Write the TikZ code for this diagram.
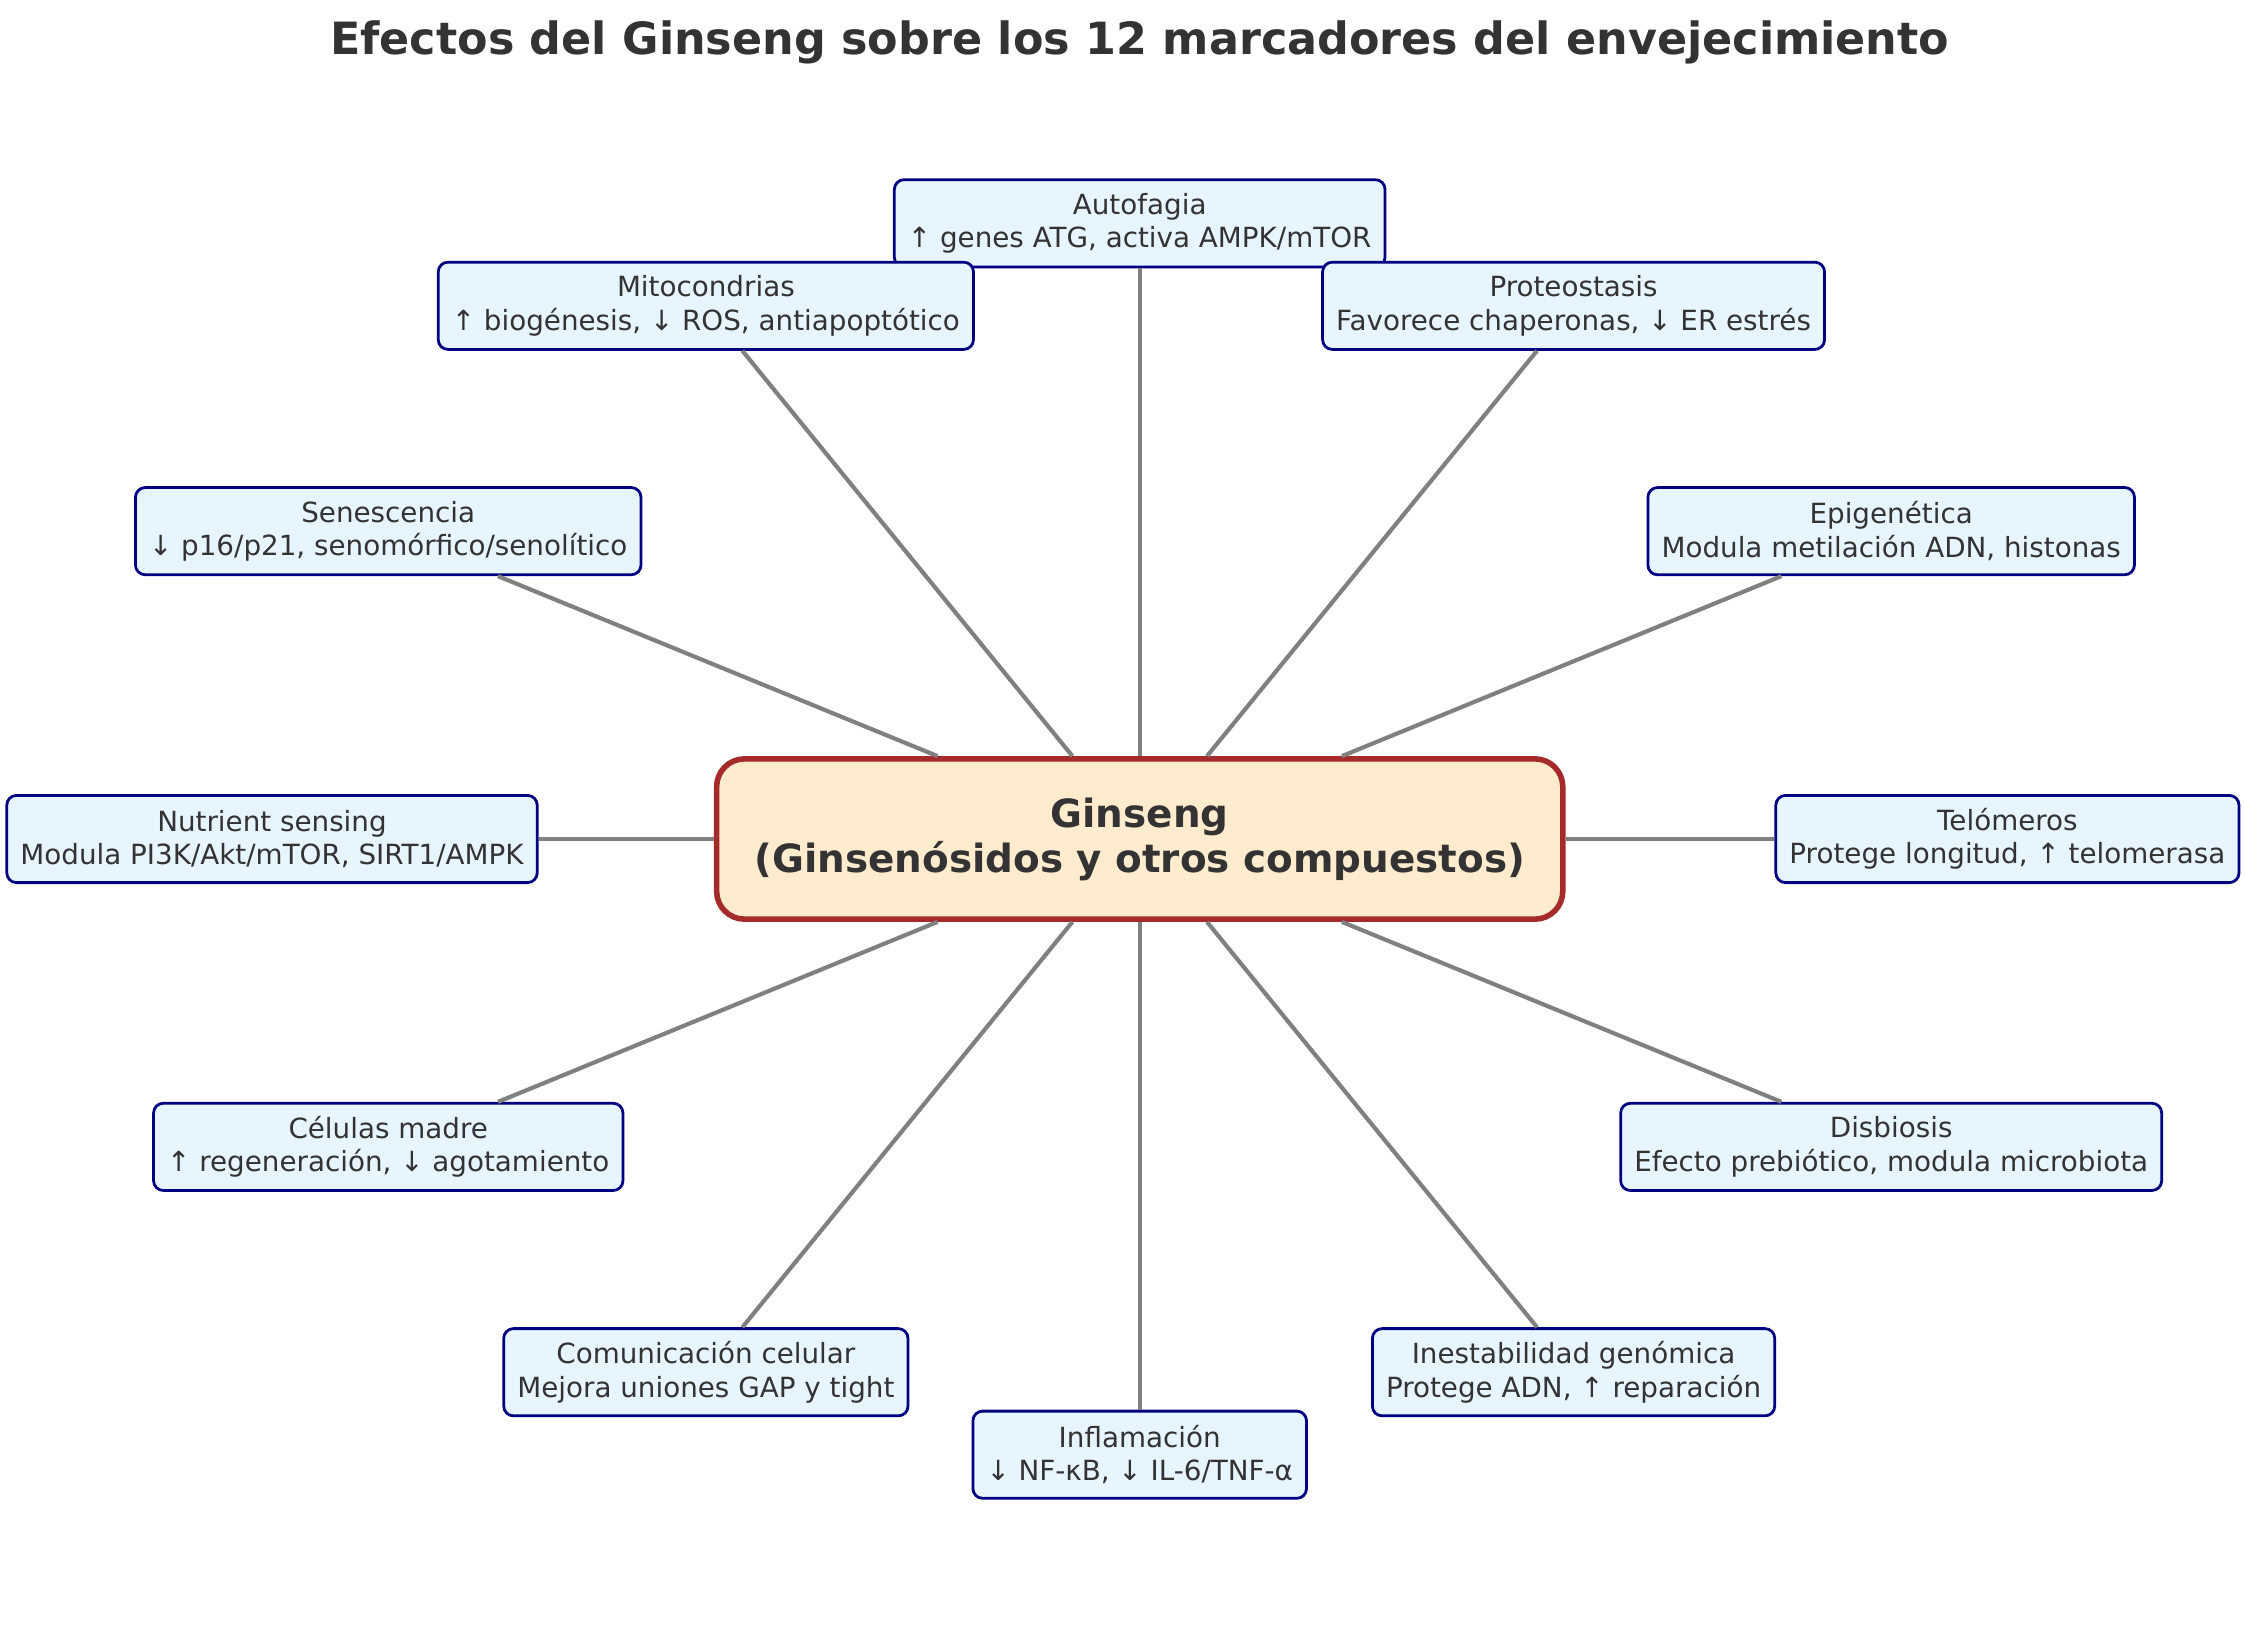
\documentclass[tikz,border=0pt]{standalone}
\usepackage{fontspec}
\setmainfont{DejaVu Sans}
\usepackage{tikz}
\definecolor{txt}{HTML}{333333}
\definecolor{boxfill}{HTML}{E6F5FF}
\definecolor{boxline}{HTML}{000080}
\definecolor{hubfill}{HTML}{FFEBCD}
\definecolor{hubline}{HTML}{A52A2A}
\definecolor{spoke}{HTML}{808080}

\begin{document}
\begin{tikzpicture}[x=0.36pt, y=-0.36pt,
  marker/.style={rectangle, rounded corners=3.5pt, draw=boxline, line width=1pt, fill=boxfill, text=txt, align=center, font=\fontsize{10}{12}\selectfont, inner xsep=4.9pt, inner ysep=2pt, minimum height=31.4pt},
  hub/.style={rectangle, rounded corners=10pt, draw=hubline, line width=2pt, fill=hubfill, text=txt, align=center, font=\fontsize{14}{16.2}\selectfont\bfseries, minimum width=304.6pt, minimum height=57.7pt},
  link/.style={draw=spoke, line width=1.5pt}]
  \useasboundingbox (0,0) rectangle (2245,1630);

  \node[text=txt, font=\fontsize{16}{19}\selectfont\bfseries] (title) at (1139.7,42) {Efectos del Ginseng sobre los 12 marcadores del envejecimiento};
  \node[hub] (g) at (1139.7,839) {Ginseng\\(Ginsenósidos y otros compuestos)};

  \foreach \ang/\nm/\lbl in {
    90/auto/{Autofagia\\↑ genes ATG, activa AMPK/mTOR},
    120/mito/{Mitocondrias\\↑ biogénesis, ↓ ROS, antiapoptótico},
    60/prot/{Proteostasis\\Favorece chaperonas, ↓ ER estrés},
    150/sene/{Senescencia\\↓ p16/p21, senomórfico/senolítico},
    30/epig/{Epigenética\\Modula metilación ADN, histonas},
    180/nutr/{Nutrient sensing\\Modula PI3K/Akt/mTOR, SIRT1/AMPK},
    0/telo/{Telómeros\\Protege longitud, ↑ telomerasa},
    210/stem/{Células madre\\↑ regeneración, ↓ agotamiento},
    330/disb/{Disbiosis\\Efecto prebiótico, modula microbiota},
    240/comu/{Comunicación celular\\Mejora uniones GAP y tight},
    300/gen/{Inestabilidad genómica\\Protege ADN, ↑ reparación},
    270/infl/{Inflamación\\↓ NF-κB, ↓ IL-6/TNF-α}}
    \node[marker] (\nm) at ({1139.7+867.7*cos(\ang)},{839-615.7*sin(\ang)}) {\lbl};

  \foreach \nm in {auto,mito,prot,sene,epig,nutr,telo,stem,disb,comu,gen,infl}
    \draw[link] (g) -- (\nm);

\end{tikzpicture}
\end{document}
